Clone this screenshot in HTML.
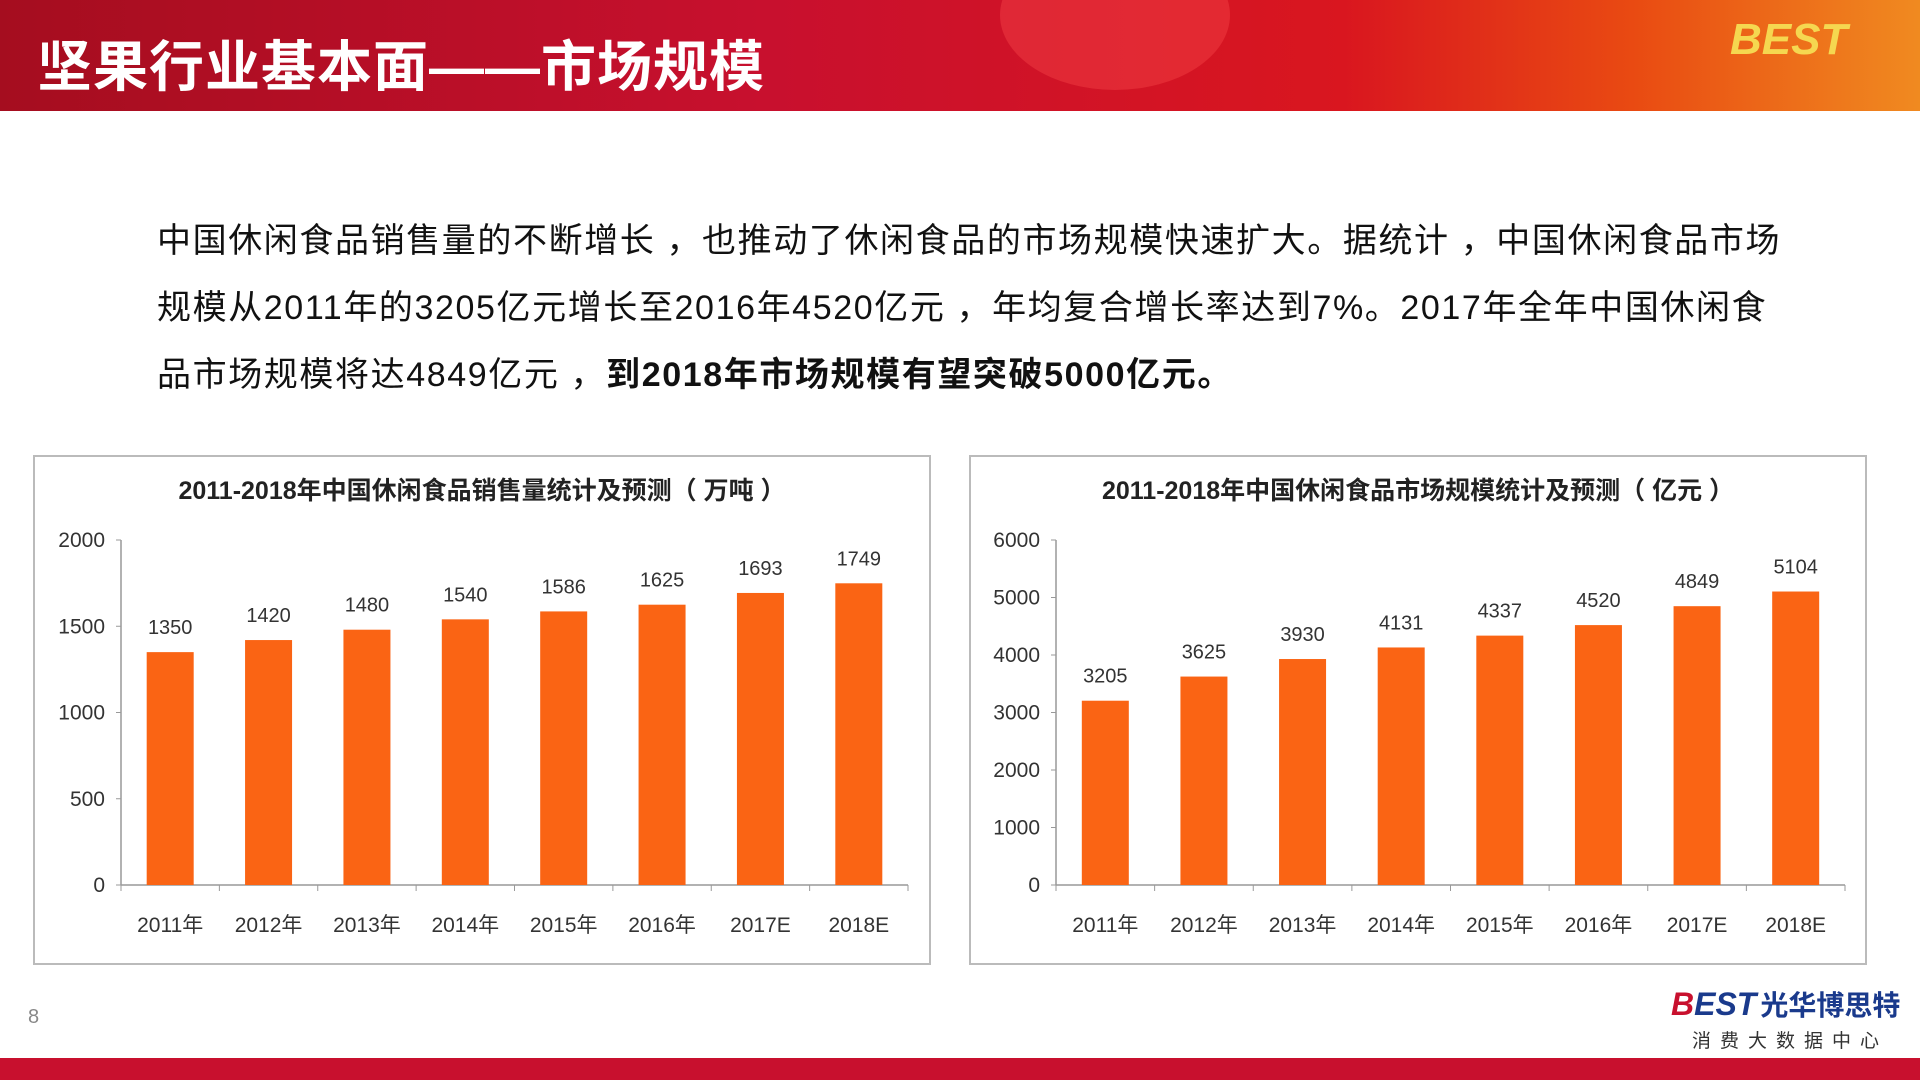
<!DOCTYPE html>
<html><head><meta charset="utf-8">
<style>
html,body{margin:0;padding:0;width:1920px;height:1080px;overflow:hidden;background:#fff;font-family:"Liberation Sans","Noto Sans CJK SC",sans-serif;}
.hdr{position:absolute;left:0;top:0;width:1920px;height:111px;background:linear-gradient(90deg,#a50d1f 0%,#c8102e 40%,#d9161f 70%,#e94a12 85%,#f08a20 100%);}
.ttl{position:absolute;left:37px;top:22px;color:#fff;font-size:55px;font-weight:bold;font-family:"Liberation Sans","Noto Sans CJK SC",sans-serif;letter-spacing:1px}
.para{position:absolute;left:157px;top:208px;width:1760px;font-size:34px;line-height:67px;color:#111;letter-spacing:1.6px;white-space:nowrap;font-family:"Liberation Sans","Noto Sans CJK SC",sans-serif}
.foot{position:absolute;left:0;top:1058px;width:1920px;height:22px;background:#c8102e}
</style></head><body>
<div class="hdr">
 <div style="position:absolute;left:1000px;top:-60px;width:230px;height:150px;border-radius:50%;background:rgba(255,80,80,.35)"></div>
 <div style="position:absolute;left:1730px;top:15px;width:120px;height:60px;color:#f5d750;font-size:44px;font-weight:bold;font-style:italic">BEST</div>
</div>
<div class="ttl">坚果行业基本面——市场规模</div>
<div class="para">中国休闲食品销售量的不断增长 ，也推动了休闲食品的市场规模快速扩大。据统计 ，中国休闲食品市场<br>规模从2011年的3205亿元增长至2016年4520亿元 ，年均复合增长率达到7%。2017年全年中国休闲食<br>品市场规模将达4849亿元 ，<b>到2018年市场规模有望突破5000亿元。</b></div>

<svg id="c1" style="position:absolute;left:0;top:0" width="1920" height="1080"></svg>

<div style="position:absolute;left:28px;top:1006px;font-size:20px;color:#888">8</div>
<div style="position:absolute;left:1671px;top:984px;font-size:32px;font-weight:bold;color:#1a3a8c;font-style:italic"><span style="color:#c8102e">B</span>EST<span style="font-style:normal;color:#1a3a8c;font-size:28px;margin-left:4px">光华博思特</span></div>
<div style="position:absolute;left:1692px;top:1026px;font-size:19px;color:#333;letter-spacing:9px">消费大数据中心</div>
<div class="foot"></div>

<script>
const categories=["2011年","2012年","2013年","2014年","2015年","2016年","2017E","2018E"];
const volumeValues=[1350,1420,1480,1540,1586,1625,1693,1749];
const marketValues=[3205,3625,3930,4131,4337,4520,4849,5104];
const volumeTicks=[0,500,1000,1500,2000];
const marketTicks=[0,1000,2000,3000,4000,5000,6000];
const svg=document.getElementById('c1');
const NS='http://www.w3.org/2000/svg';
function mk(t,a,txt){const e=document.createElementNS(NS,t);for(const k in a)e.setAttribute(k,a[k]);if(txt!=null)e.textContent=txt;svg.appendChild(e);return e;}
function chart(box,ax,title,vals,ticks,max,prefix){
 let r=mk('rect',{x:box[0],y:box[1],width:box[2],height:box[3],fill:'#fff',stroke:'#bbb','stroke-width':2});
 
 
 let t=mk('text',{x:box[0]+box[2]/2,y:499,'text-anchor':'middle','font-size':25,'font-weight':'bold',fill:'#222','font-family':'"Liberation Sans","Noto Sans CJK SC",sans-serif'},title);
 
 
 const x0=ax[0],x1=ax[1],y0=885,yt=540;
 const ys=v=>y0-(v/max)*(y0-yt);
 const bw=(x1-x0)/vals.length;
 let l=mk('line',{x1:x0,y1:yt,x2:x0,y2:y0,stroke:'#999','stroke-width':1.5});
 
 
 l=mk('line',{x1:x0,y1:y0,x2:x1,y2:y0,stroke:'#999','stroke-width':1.5});
 
 
 ticks.forEach(v=>{
  const tl=mk('text',{x:x0-16,y:ys(v)+7,'text-anchor':'end','font-size':21,fill:'#333'},v);
  
  
  mk('line',{x1:x0-5,y1:ys(v),x2:x0,y2:ys(v),stroke:'#999'});
 });
 for(let i=0;i<=vals.length;i++)mk('line',{x1:x0+i*bw,y1:y0,x2:x0+i*bw,y2:y0+6,stroke:'#999'});
 vals.forEach((v,i)=>{
  const cx=x0+bw*(i+0.5);
  const b=mk('rect',{x:cx-23.5,y:ys(v),width:47,height:y0-ys(v),fill:'#fa6414'});
  
  
  const vl=mk('text',{x:cx,y:ys(v)-18,'text-anchor':'middle','font-size':20,fill:'#333'},v);
  
  
  const xl=mk('text',{x:cx,y:932,'text-anchor':'middle','font-size':21,fill:'#333','font-family':'"Liberation Sans","Noto Sans CJK SC",sans-serif'},categories[i]);
  
  
 });
}
chart([34,456,896,508],[121,908],'2011-2018年中国休闲食品销售量统计及预测（ 万吨 ）',volumeValues,volumeTicks,2000,'volume');
chart([970,456,896,508],[1056,1845],'2011-2018年中国休闲食品市场规模统计及预测（ 亿元 ）',marketValues,marketTicks,6000,'market');
</script>
</body></html>
